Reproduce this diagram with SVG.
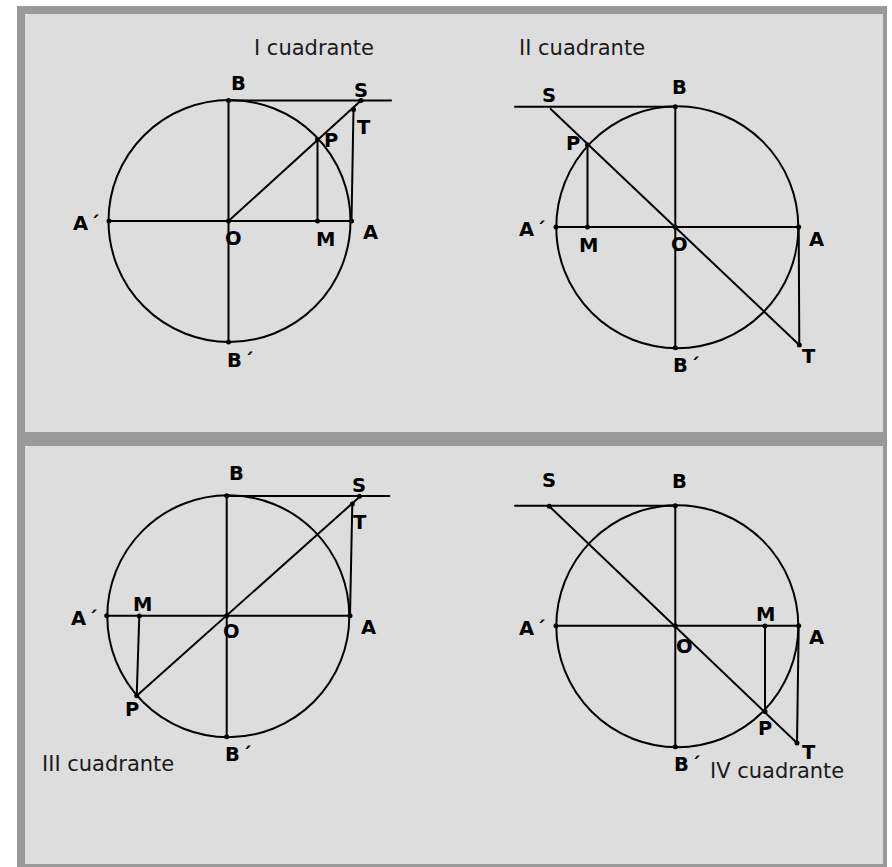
<svg xmlns="http://www.w3.org/2000/svg" width="892" height="867" viewBox="0 0 892 867">
<style>
.bg{fill:#999999}
.panel{fill:#dddddd}
.ln{stroke:#000;stroke-width:2;fill:none;stroke-linecap:round}
.dot{fill:#000}
.lb{font-family:"DejaVu Sans","Liberation Sans",sans-serif;font-weight:bold;font-size:19.5px;fill:#000}
.tt{font-family:"DejaVu Sans","Liberation Sans",sans-serif;font-size:21px;fill:#1a1a1a}
</style>
<rect class="bg" x="17" y="6" width="870" height="861"/>
<rect class="panel" x="25" y="14" width="858" height="418"/>
<rect class="panel" x="25" y="446" width="858" height="418"/>

<g id="q1">
  <g id="q1-lines">
    <circle class="ln" cx="229.5" cy="221" r="121"/>
    <line class="ln" x1="109" y1="221" x2="351.5" y2="221"/>
    <line class="ln" x1="228.5" y1="100.5" x2="228.5" y2="342"/>
    <line class="ln" x1="228.5" y1="100.5" x2="391" y2="100.5"/>
    <line class="ln" x1="228.5" y1="221" x2="361" y2="100.5"/>
    <line class="ln" x1="317.5" y1="139.5" x2="317.5" y2="221"/>
    <line class="ln" x1="351.5" y1="221" x2="353.5" y2="109.5"/>
  </g>
  <g id="q1-dots">
    <circle class="dot" cx="228.5" cy="100.5" r="2.5"/>
    <circle class="dot" cx="228.5" cy="342" r="2.5"/>
    <circle class="dot" cx="109" cy="221" r="2.5"/>
    <circle class="dot" cx="228.5" cy="221" r="2.5"/>
    <circle class="dot" cx="317.5" cy="221" r="2.5"/>
    <circle class="dot" cx="351.5" cy="221" r="2.5"/>
    <circle class="dot" cx="317.5" cy="139.5" r="2.5"/>
    <circle class="dot" cx="361" cy="100.5" r="2.5"/>
    <circle class="dot" cx="353.5" cy="109.5" r="2.5"/>
  </g>
  <g id="q1-labels">
    <text class="tt" x="254" y="55">I cuadrante</text>
    <text class="lb" x="231" y="90">B</text>
    <text class="lb" x="354" y="97">S</text>
    <text class="lb" x="357" y="134">T</text>
    <text class="lb" x="324" y="147">P</text>
    <text class="lb" x="73" y="230">A<tspan dx="2">´</tspan></text>
    <text class="lb" x="225" y="245">O</text>
    <text class="lb" x="316" y="246">M</text>
    <text class="lb" x="363" y="239">A</text>
    <text class="lb" x="227" y="367">B<tspan dx="2">´</tspan></text>
  </g>
</g>

<g id="q2">
  <g id="q2-lines">
    <circle class="ln" cx="677.3" cy="227.2" r="121"/>
    <line class="ln" x1="556" y1="227" x2="798.7" y2="227"/>
    <line class="ln" x1="675.3" y1="106.7" x2="675.3" y2="347.7"/>
    <line class="ln" x1="515" y1="106.7" x2="675.3" y2="106.7"/>
    <line class="ln" x1="550.7" y1="109" x2="799.3" y2="345"/>
    <line class="ln" x1="798.7" y1="227" x2="799.3" y2="345"/>
    <line class="ln" x1="587.5" y1="145" x2="587.5" y2="227"/>
  </g>
  <g id="q2-dots">
    <circle class="dot" cx="675.3" cy="106.7" r="2.5"/>
    <circle class="dot" cx="675.3" cy="347.7" r="2.5"/>
    <circle class="dot" cx="556" cy="227" r="2.5"/>
    <circle class="dot" cx="587.5" cy="227" r="2.5"/>
    <circle class="dot" cx="675.3" cy="227" r="2.5"/>
    <circle class="dot" cx="798.7" cy="227" r="2.5"/>
    <circle class="dot" cx="587.5" cy="145" r="2.5"/>
    <circle class="dot" cx="799.3" cy="345" r="2.5"/>
  </g>
  <g id="q2-labels">
    <text class="tt" x="519" y="55">II cuadrante</text>
    <text class="lb" x="542" y="102">S</text>
    <text class="lb" x="672" y="94">B</text>
    <text class="lb" x="566" y="150">P</text>
    <text class="lb" x="519" y="236">A<tspan dx="2">´</tspan></text>
    <text class="lb" x="579" y="252">M</text>
    <text class="lb" x="671" y="251">O</text>
    <text class="lb" x="809" y="246">A</text>
    <text class="lb" x="673" y="372">B<tspan dx="2">´</tspan></text>
    <text class="lb" x="802" y="363">T</text>
  </g>
</g>

<g id="q3">
  <g id="q3-lines">
    <circle class="ln" cx="228.3" cy="616.2" r="121"/>
    <line class="ln" x1="106.7" y1="615.7" x2="350" y2="615.7"/>
    <line class="ln" x1="226.7" y1="495.7" x2="226.7" y2="736.7"/>
    <line class="ln" x1="226.7" y1="496" x2="389.3" y2="496"/>
    <line class="ln" x1="136.7" y1="695.7" x2="360" y2="496.5"/>
    <line class="ln" x1="350" y1="615.7" x2="352.3" y2="504"/>
    <line class="ln" x1="139.3" y1="616" x2="136.7" y2="695.7"/>
  </g>
  <g id="q3-dots">
    <circle class="dot" cx="226.7" cy="495.7" r="2.5"/>
    <circle class="dot" cx="226.7" cy="736.7" r="2.5"/>
    <circle class="dot" cx="106.7" cy="615.7" r="2.5"/>
    <circle class="dot" cx="139.3" cy="616" r="2.5"/>
    <circle class="dot" cx="226.7" cy="615.7" r="2.5"/>
    <circle class="dot" cx="350" cy="615.7" r="2.5"/>
    <circle class="dot" cx="136.7" cy="695.7" r="2.5"/>
    <circle class="dot" cx="352.3" cy="504" r="2.5"/>
    <circle class="dot" cx="359.5" cy="496.3" r="2.5"/>
  </g>
  <g id="q3-labels">
    <text class="lb" x="229" y="480">B</text>
    <text class="lb" x="352" y="492">S</text>
    <text class="lb" x="353" y="529">T</text>
    <text class="lb" x="133" y="611">M</text>
    <text class="lb" x="71" y="625">A<tspan dx="2">´</tspan></text>
    <text class="lb" x="223" y="638">O</text>
    <text class="lb" x="361" y="634">A</text>
    <text class="lb" x="125" y="716">P</text>
    <text class="lb" x="225" y="761">B<tspan dx="2">´</tspan></text>
    <text class="tt" x="42" y="771">III cuadrante</text>
  </g>
</g>

<g id="q4">
  <g id="q4-lines">
    <circle class="ln" cx="677.3" cy="626.2" r="121"/>
    <line class="ln" x1="556" y1="625.7" x2="798.7" y2="625.7"/>
    <line class="ln" x1="675.3" y1="505.7" x2="675.3" y2="746.7"/>
    <line class="ln" x1="515" y1="505.7" x2="675.3" y2="505.7"/>
    <line class="ln" x1="549.3" y1="506.3" x2="797" y2="743"/>
    <line class="ln" x1="798.7" y1="625.7" x2="797" y2="743"/>
    <line class="ln" x1="765" y1="626" x2="765" y2="711.5"/>
  </g>
  <g id="q4-dots">
    <circle class="dot" cx="549.3" cy="506.3" r="2.5"/>
    <circle class="dot" cx="675.3" cy="505.7" r="2.5"/>
    <circle class="dot" cx="675.3" cy="746.7" r="2.5"/>
    <circle class="dot" cx="556" cy="625.7" r="2.5"/>
    <circle class="dot" cx="675.3" cy="625.7" r="2.5"/>
    <circle class="dot" cx="765" cy="626" r="2.5"/>
    <circle class="dot" cx="798.7" cy="625.7" r="2.5"/>
    <circle class="dot" cx="765" cy="711.5" r="2.5"/>
    <circle class="dot" cx="797" cy="743" r="2.5"/>
  </g>
  <g id="q4-labels">
    <text class="lb" x="542" y="487">S</text>
    <text class="lb" x="672" y="488">B</text>
    <text class="lb" x="756" y="621">M</text>
    <text class="lb" x="519" y="635">A<tspan dx="2">´</tspan></text>
    <text class="lb" x="809" y="644">A</text>
    <text class="lb" x="676" y="653">O</text>
    <text class="lb" x="758" y="735">P</text>
    <text class="lb" x="802" y="759">T</text>
    <text class="lb" x="674" y="771">B<tspan dx="2">´</tspan></text>
    <text class="tt" x="710" y="778">IV cuadrante</text>
  </g>
</g>
</svg>
